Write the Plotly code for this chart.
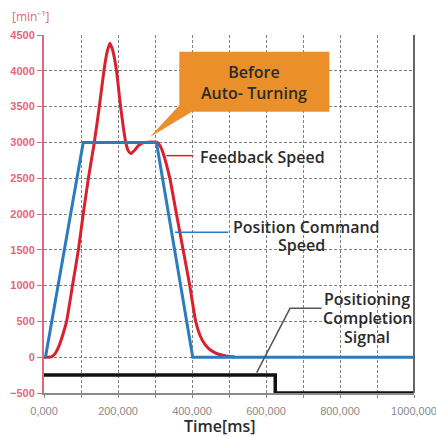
import plotly.graph_objects as go

# ---- data ----
cmd_t = [4000, 106000, 304000, 402000, 1000000]
cmd_v = [0, 3000, 3000, 0, 0]

fb_t = [0, 10000, 20000, 30000, 40000, 50000, 61000, 77000, 93000, 106000, 120000, 136000,
        149500, 162000, 170000, 178000, 186000, 196000, 207000, 221000, 228000,
        235000, 245000, 256000, 273000, 306000, 313000, 322000, 340000, 358000,
        376000, 394000, 410000, 422000, 435000, 450000, 470000, 495000, 515000]
fb_v = [0, 0, 5, 50, 150, 300, 500, 1000, 1500, 2000, 2500, 3000,
        3500, 4000, 4250, 4385, 4280, 4000, 3500, 3000, 2880,
        2845, 2890, 2960, 3000, 3000, 2960, 2850, 2500, 2000,
        1500, 1000, 500, 300, 180, 100, 45, 15, 5]

sig_t = [0, 625000, 625000, 1000000]
sig_v = [-250, -250, -500, -500]

x_ticks = [0, 100000, 200000, 300000, 400000, 500000, 600000, 700000, 800000, 900000, 1000000]
x_labels = ["0,000", "", "200,000", "", "400,000", "", "600,000", "", "800,000", "", "1000,000"]
y_ticks = [-500, 0, 500, 1000, 1500, 2000, 2500, 3000, 3500, 4000, 4500]

RED = "#D8202F"
BLUE = "#2A7BC0"
BLACK = "#111111"
ORANGE = "#EA8F2A"
PINK = "#E4667C"
TXT = "#2b2b2b"
FONT = "Open Sans"
LBL = dict(family=FONT, size=16, color=TXT, weight=600)

fig = go.Figure()
fig.add_trace(go.Scatter(x=fb_t, y=fb_v, mode="lines", line=dict(color=RED, width=3, shape="spline", smoothing=0.5),
                         showlegend=False, hoverinfo="skip"))
fig.add_trace(go.Scatter(x=cmd_t, y=cmd_v, mode="lines", line=dict(color=BLUE, width=3),
                         showlegend=False, hoverinfo="skip"))
fig.add_trace(go.Scatter(x=sig_t, y=sig_v, mode="lines", line=dict(color=BLACK, width=3.5),
                         showlegend=False, hoverinfo="skip", cliponaxis=False))

shapes = [
    # orange callout box
    dict(type="rect", xref="x", yref="y", x0=365700, x1=771100, y0=3429, y1=4267,
         fillcolor=ORANGE, line=dict(width=0), layer="above"),
    dict(type="path", xref="x", yref="y",
         path="M 365700,3520 L 400000,3429 L 286500,3075 Z",
         fillcolor=ORANGE, line=dict(width=0), layer="above"),
    # leader lines
    dict(type="line", xref="x", yref="y", x0=331000, x1=403500, y0=2815, y1=2815,
         line=dict(color=RED, width=1.5), layer="above"),
    dict(type="line", xref="x", yref="y", x0=354000, x1=498000, y0=1744, y1=1744,
         line=dict(color=BLUE, width=1.5), layer="above"),
    dict(type="path", xref="x", yref="y",
         path="M 750500,683 L 664900,683 L 574900,-215",
         line=dict(color="#555555", width=1.5), layer="above"),
    # right border
    dict(type="line", xref="paper", yref="paper", x0=1, x1=1, y0=0, y1=1,
         line=dict(color="#666666", width=2), layer="above"),
]

annotations = [
    dict(x=567600, y=3843, xref="x", yref="y", text="Before<br>Auto- Turning", showarrow=False,
         font=LBL, align="center"),
    dict(x=416000, y=2800, xref="x", yref="y", text="Feedback Speed", showarrow=False,
         xanchor="left", font=LBL),
    dict(x=709000, y=1825, xref="x", yref="y", text="Position Command", showarrow=False, font=LBL),
    dict(x=695000, y=1562, xref="x", yref="y", text="Speed", showarrow=False, font=LBL),
    dict(x=873000, y=810, xref="x", yref="y", text="Positioning", showarrow=False, font=LBL),
    dict(x=875000, y=542, xref="x", yref="y", text="Completion", showarrow=False, font=LBL),
    dict(x=873000, y=285, xref="x", yref="y", text="Signal", showarrow=False, font=LBL),
    dict(x=-0.092, y=1.051, xref="paper", yref="paper", text="[min⁻¹]", showarrow=False,
         xanchor="left", yanchor="middle", font=dict(family=FONT, size=12, color=PINK)),
    dict(x=0.4757, y=-0.092, xref="paper", yref="paper", text="Time[ms]", showarrow=False,
         xanchor="center", yanchor="middle", font=LBL),
]

fig.update_layout(
    width=436, height=437,
    margin=dict(l=44, r=22, t=35, b=44, autoexpand=False),
    paper_bgcolor="white", plot_bgcolor="white",
    shapes=shapes, annotations=annotations,
    xaxis=dict(range=[0, 1000000], tickvals=x_ticks, ticktext=x_labels,
               showgrid=True, gridcolor="#808080", griddash="3px,2px", gridwidth=1,
               zeroline=False, showline=True, linecolor="#8a8a8a", linewidth=1.5,
               ticks="outside", ticklen=3, tickcolor="#8a8a8a", ticklabelstandoff=4,
               ticklabeloverflow="allow", automargin=False,
               tickfont=dict(family="Liberation Sans", size=11, color="#8a8a8a")),
    yaxis=dict(range=[-500, 4500], tickvals=y_ticks, automargin=False,
               showgrid=True, gridcolor="#808080", griddash="3px,2px", gridwidth=1,
               zeroline=False, showline=True, linecolor=PINK, linewidth=2,
               ticks="outside", ticklen=5, tickcolor=PINK,
               tickfont=dict(family="Liberation Sans", size=11, color=PINK, weight="bold")),
)

fig.write_html("out.html", post_script="document.body.style.margin='0px';",
               config={"displayModeBar": False})
